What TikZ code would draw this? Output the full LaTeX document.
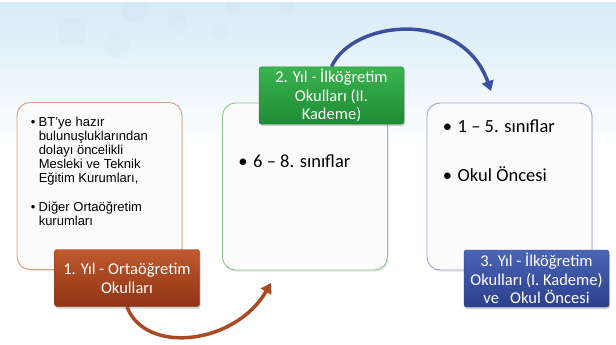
\documentclass[tikz,border=0pt]{standalone}
\usepackage{fontspec}
\setmainfont{Carlito}
\newfontfamily\arialfont{Liberation Sans}
\usepackage{xcolor}
\definecolor{skyblue}{HTML}{D6EBF7}
\definecolor{bubble}{HTML}{9FBFD6}
\definecolor{panelfill}{HTML}{FBFBFB}
\definecolor{rustline}{HTML}{D4A07C}
\definecolor{greenline}{HTML}{88C88A}
\definecolor{blueline}{HTML}{A0A4D0}
\definecolor{rusttop}{HTML}{C0592E}
\definecolor{rustbot}{HTML}{8E3414}
\definecolor{greentop}{HTML}{3BB34F}
\definecolor{greenbot}{HTML}{1E8B34}
\definecolor{bluetop}{HTML}{4B65B5}
\definecolor{bluebot}{HTML}{2C3F8C}
\definecolor{rustarrow}{HTML}{A94A22}
\definecolor{bluearrow}{HTML}{3C50A0}
\usepackage{tikz}
\usetikzlibrary{positioning}
\usetikzlibrary{arrows.meta,shadows}
\usetikzlibrary{backgrounds}
\newcommand{\blt}[1][15pt]{\makebox[#1][l]{\textbullet}}
\newcommand{\bltgap}{\hspace*{8pt}}

\begin{document}
\begin{tikzpicture}[x=1pt,y=-1pt,
    panel/.style={draw=#1,line width=0.9pt,fill=panelfill,rounded corners=13pt,minimum width=165pt,minimum height=167pt,
        drop shadow={opacity=0.2,shadow xshift=1pt,shadow yshift=-1.5pt}},
    yearbox/.style n args={2}{top color=#1,bottom color=#2,draw=#2,rounded corners=2.5pt,minimum width=145pt,minimum height=57pt,
        align=center,text=white,inner sep=2pt,font=\fontsize{16.5}{18.7}\selectfont,
        drop shadow={opacity=0.35,shadow xshift=1pt,shadow yshift=-2pt}},
    bullets/.style={align=left,inner sep=0pt,font=\fontsize{18.5}{22}\selectfont},
    smallbullets/.style={align=left,inner sep=0pt,font=\arialfont\fontsize{13}{14}\selectfont},
    bigarrow/.style={draw=#1,line width=3.5pt,-{Triangle[length=10pt,width=12pt]}}]
    \useasboundingbox (0,0) rectangle (616,345);
    \begin{scope}[on background layer]
        \fill[white] (0,0) rectangle (616,345);
        \shade[top color=skyblue,bottom color=white] (0,3) rectangle (616,150);
        \foreach \x/\y/\r in {135/10/13,72/33/15,177/23/10,117/45/13,220/32/9,233/5/8,287/5/7}
            \fill[bubble,opacity=0.06] (\x,\y) circle (\r);
    \end{scope}
    \node[panel=rustline] (B1) at (99.5,186) {};
    \node[panel=greenline] (B2) at (305,186.5) {};
    \node[panel=blueline] (B3) at (509.5,186.5) {};
    \node[smallbullets, below right=15pt and 14pt of B1.north west] (L1) {\blt[8pt]BT’ye hazır\\\bltgap bulunuşluklarından\\\bltgap dolayı öncelikli\\\bltgap Mesleki ve Teknik\\\bltgap Eğitim Kurumları,};
    \node[smallbullets, below right=16pt and 0pt of L1.south west] (L2) {\blt[8pt]Diğer Ortaöğretim\\\bltgap kurumları};
    \node[bullets, below right=52pt and 16pt of B2.north west] (L3) {\blt 6 – 8. sınıflar};
    \node[bullets, below right=17pt and 16pt of B3.north west] (L4) {\blt 1 – 5. sınıflar\\[27pt]\blt Okul Öncesi};
    \node[yearbox={rusttop}{rustbot}] (T1) at (127,278) {1. Yıl - Ortaöğretim\\Okulları};
    \node[yearbox={greentop}{greenbot}] (T2) at (331.5,95.5) {2. Yıl - İlköğretim\\Okulları (II.\\Kademe)};
    \node[yearbox={bluetop}{bluebot}] (T3) at (536.5,278.5) {3. Yıl - İlköğretim\\Okulları (I. Kademe)\\ve\ \ \ Okul Öncesi};
    \coordinate (E1) at (271,283);
    \coordinate (E2) at (491,91);
    \begin{scope}[on background layer]
        \draw[bigarrow=rustarrow] (T1.south) .. controls (145,355) and (235,345) .. (E1);
        \draw[bigarrow=bluearrow] (T2.north) .. controls (352,20) and (462,8) .. (E2);
    \end{scope}
\end{tikzpicture}
\end{document}
